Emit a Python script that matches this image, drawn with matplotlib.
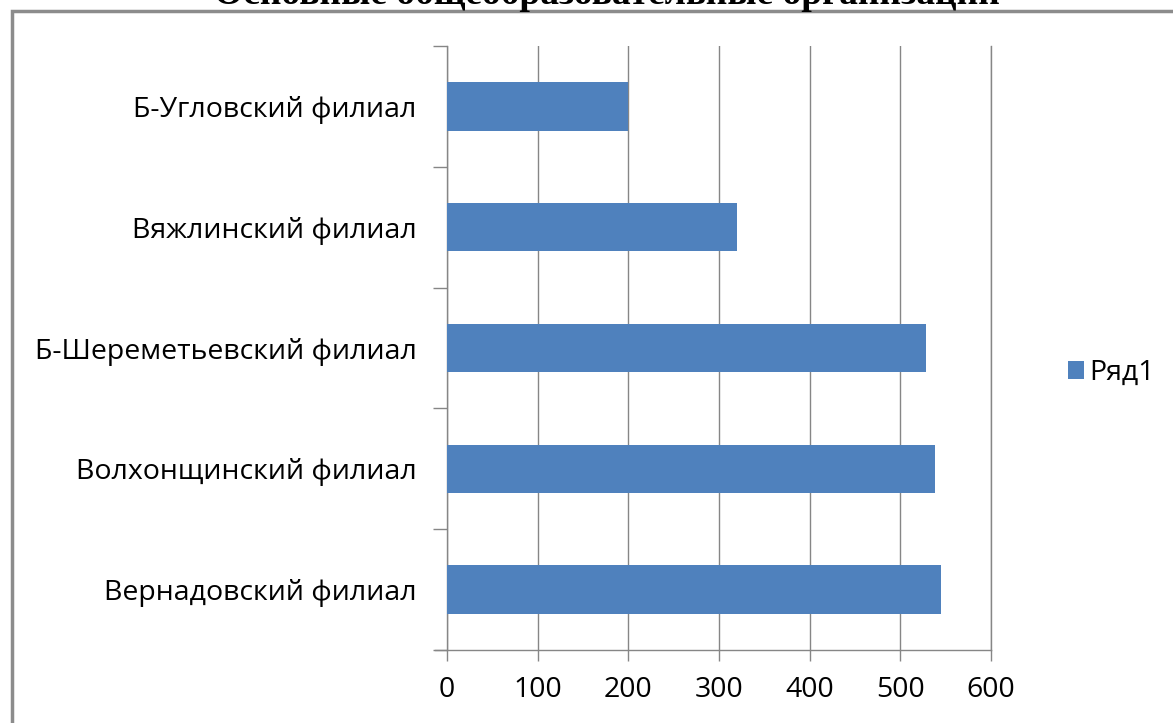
import matplotlib
matplotlib.use("Agg")
import matplotlib.pyplot as plt
from matplotlib.patches import Rectangle

categories = ["Вернадовский филиал", "Волхонщинский филиал", "Б-Шереметьевский филиал",
              "Вяжлинский филиал", "Б-Угловский филиал"]
values = [545, 538, 528, 320, 200]
xticks = [0, 100, 200, 300, 400, 500, 600]
series_name = "Ряд1"
title = "Основные общеобразовательные организации"

W, H = 1173, 723
fig = plt.figure(figsize=(W / 100, H / 100), dpi=100)
ax = fig.add_axes([447 / W, 1 - 650 / H, (991 - 447) / W, (650 - 46) / H])

color = "#4F81BD"
grid = "#868686"
ypos = list(range(len(categories)))
bars = ax.barh(ypos, values, height=0.4, color=color, zorder=3, label=series_name)
ax.set_xlim(0, 600)
ax.set_ylim(-0.5, len(categories) - 0.5)
ax.set_xticks(xticks)
ax.set_xticklabels([str(t) for t in xticks])
ax.set_yticks([y - 0.5 for y in range(len(categories) + 1)])
ax.set_yticklabels([])
ax.set_yticks(ypos, minor=True)
ax.set_yticklabels(categories, minor=True)
ax.tick_params(axis="y", which="minor", length=0, pad=22, labelsize=20.5)
ax.tick_params(axis="y", which="major", length=10, color=grid, width=1)
ax.tick_params(axis="x", length=8, color=grid, width=1, labelsize=20.5, pad=11, direction="out")
for lab in ax.get_yticklabels(minor=True) + ax.get_xticklabels():
    lab.set_fontfamily("Open Sans")
ax.grid(axis="x", color=grid, linewidth=1, zorder=0)
for s in ["top"]:
    ax.spines[s].set_visible(False)
for s in ["left", "bottom", "right"]:
    ax.spines[s].set_color(grid)
    ax.spines[s].set_linewidth(1)
ax.spines["bottom"].set_bounds(-12 / (544 / 600), 600)

leg = fig.legend(handles=[bars], labels=[series_name], loc="center left",
                 bbox_to_anchor=(1068 / W, 1 - 373 / H), frameon=False,
                 prop={"family": "Open Sans", "size": 20.5},
                 borderpad=0, borderaxespad=0,
                 handlelength=0.55, handleheight=0.55, handletextpad=0.2)

fig.text(607 / W, 1 - 4 / H, title, ha="center", va="baseline",
         fontfamily="Liberation Serif", fontweight="bold", fontsize=27)

fig.patches.append(Rectangle((12 / W, -0.1), 1.2, 1 - 11 / H + 0.1, transform=fig.transFigure,
                             fill=False, edgecolor="#8C8C8C", linewidth=2.5))

fig.savefig("out.png", dpi=100)
